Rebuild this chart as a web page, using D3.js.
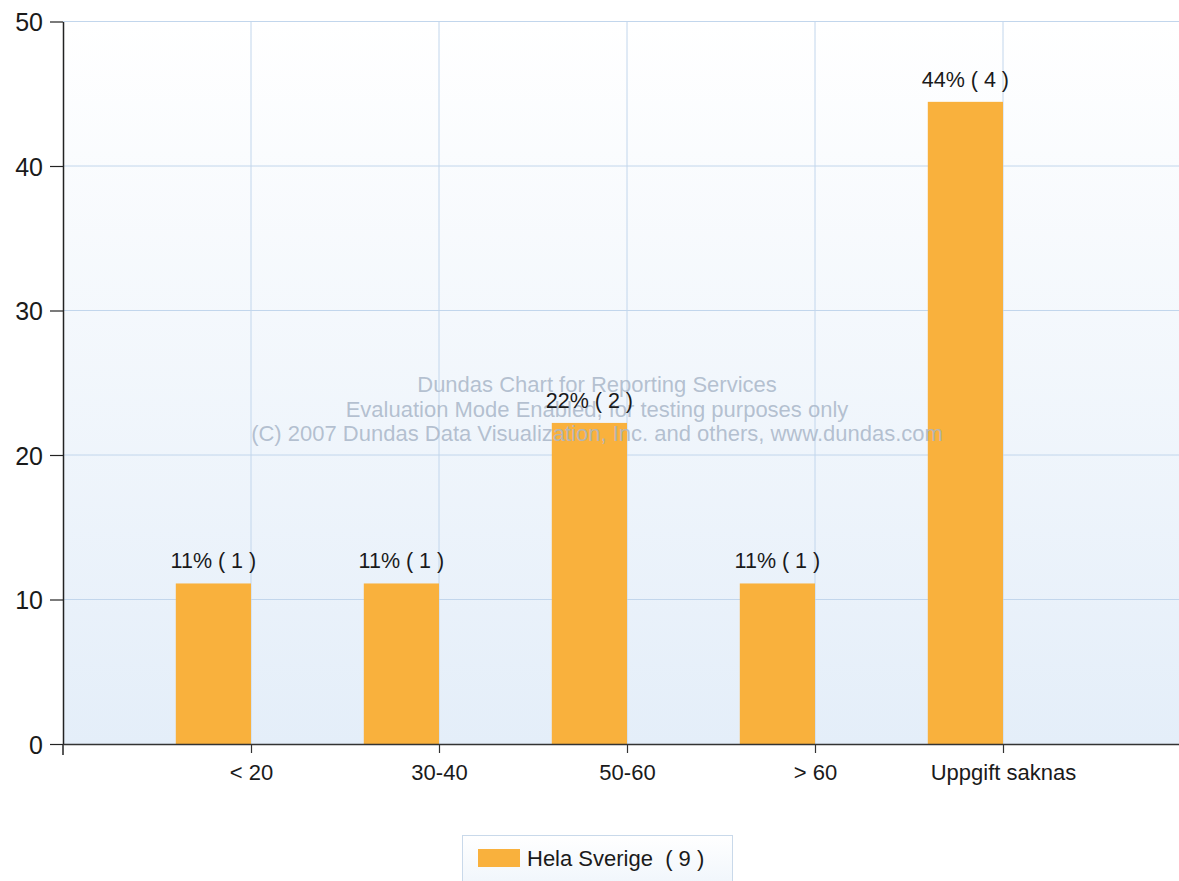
<!DOCTYPE html>
<html>
<head>
<meta charset="utf-8">
<script src="https://cdn.jsdelivr.net/npm/d3@7"></script>
<style>
  html, body { margin: 0; padding: 0; background: #ffffff; overflow: hidden; }
  svg { display: block; font-family: "Liberation Sans", Arial, sans-serif; }
</style>
</head>
<body>
<svg id="chart" width="1179" height="881"></svg>
<script>
const categories = ["< 20", "30-40", "50-60", "> 60", "Uppgift saknas"];
const percentValues = [11.11, 11.11, 22.22, 11.11, 44.44];
const countValues = [1, 1, 2, 1, 4];
const percentLabels = ["11%", "11%", "22%", "11%", "44%"];
const yTicks = [0, 10, 20, 30, 40, 50];
const seriesName = "Hela Sverige";
const seriesTotal = 9;
const watermarkLines = [
  "Dundas Chart for Reporting Services",
  "Evaluation Mode Enabled, for testing purposes only",
  "(C) 2007 Dundas Data Visualization, Inc. and others, www.dundas.com"
];

const svg = d3.select("#chart");
const plot = { left: 63, right: 1191, top: 21.5, bottom: 744 };

const x = d3.scalePoint().domain(categories).range([plot.left, plot.right]).padding(1);
const step = x.step();
const barW = step * 0.4;
const y = d3.scaleLinear().domain([0, 50]).range([plot.bottom, plot.top]);

const defs = svg.append("defs");
const grad = defs.append("linearGradient").attr("id", "bg").attr("x1", 0).attr("y1", 0).attr("x2", 0).attr("y2", 1);
grad.append("stop").attr("offset", "0%").attr("stop-color", "#ffffff");
grad.append("stop").attr("offset", "100%").attr("stop-color", "#e4eef9");
const lgrad = defs.append("linearGradient").attr("id", "lg").attr("x1", 0).attr("y1", 0).attr("x2", 0).attr("y2", 1);
lgrad.append("stop").attr("offset", "0%").attr("stop-color", "#ffffff");
lgrad.append("stop").attr("offset", "100%").attr("stop-color", "#edf4fb");

svg.append("rect")
  .attr("x", plot.left).attr("y", plot.top)
  .attr("width", plot.right - plot.left).attr("height", plot.bottom - plot.top)
  .attr("fill", "url(#bg)");

// horizontal gridlines
svg.append("g").selectAll("line").data(yTicks.filter(d => d > 0)).join("line")
  .attr("x1", plot.left).attr("x2", plot.right)
  .attr("y1", d => y(d)).attr("y2", d => y(d))
  .attr("stroke", "#c2d6ec").attr("stroke-width", 1);

// vertical gridlines
svg.append("g").selectAll("line").data(categories).join("line")
  .attr("x1", d => x(d)).attr("x2", d => x(d))
  .attr("y1", plot.top).attr("y2", plot.bottom)
  .attr("stroke", "#c2d6ec").attr("stroke-width", 1);

// bars
svg.append("g").selectAll("rect").data(categories).join("rect")
  .attr("x", d => x(d) - barW)
  .attr("y", (d, i) => y(percentValues[i]))
  .attr("width", barW)
  .attr("height", (d, i) => plot.bottom - y(percentValues[i]))
  .attr("fill", "#f9b13d");

// watermark (drawn over bars)
svg.append("g").selectAll("text").data(watermarkLines).join("text")
  .attr("x", 597).attr("y", (d, i) => 392 + i * 24.5)
  .attr("text-anchor", "middle")
  .attr("font-size", 22)
  .attr("fill", "#a9b6c8")
  .attr("fill-opacity", 0.85)
  .text(d => d);

// value labels
svg.append("g").selectAll("text").data(categories).join("text")
  .attr("x", d => x(d) - barW / 2)
  .attr("y", (d, i) => y(percentValues[i]) - 15)
  .attr("text-anchor", "middle")
  .attr("font-size", 21.5)
  .attr("fill", "#1a1a1a")
  .text((d, i) => `${percentLabels[i]} ( ${countValues[i]} )`);

// Y axis
const yAxis = d3.axisLeft(y).tickValues(yTicks).tickSize(13).tickPadding(7).tickSizeOuter(0);
const gy = svg.append("g").attr("transform", `translate(${plot.left},0)`).call(yAxis);
gy.select(".domain").attr("stroke", "#222").attr("stroke-width", 1.5);
gy.selectAll(".tick line").attr("stroke", "#222").attr("stroke-width", 1.2);
gy.selectAll(".tick text").attr("font-size", 25).attr("fill", "#1a1a1a")
  .attr("font-family", "'Liberation Sans', Arial, sans-serif").attr("dy", "0.36em");

// X axis
const xAxis = d3.axisBottom(x).tickSize(9).tickPadding(11).tickSizeOuter(0);
const gx = svg.append("g").attr("transform", `translate(0,${plot.bottom})`).call(xAxis);
gx.select(".domain").attr("stroke", "#333").attr("stroke-width", 1.3);
gx.selectAll(".tick line").attr("stroke", "#333").attr("stroke-width", 1.2);
gx.selectAll(".tick text").attr("font-size", 22).attr("fill", "#1a1a1a")
  .attr("font-family", "'Liberation Sans', Arial, sans-serif");
// tick at axis start
svg.append("line").attr("x1", plot.left).attr("x2", plot.left)
  .attr("y1", plot.bottom).attr("y2", plot.bottom + 11)
  .attr("stroke", "#222").attr("stroke-width", 1.5);

// legend
const lg = svg.append("g").attr("transform", "translate(462,835)");
lg.append("rect").attr("x", 0.5).attr("y", 0.5).attr("width", 270).attr("height", 60)
  .attr("fill", "url(#lg)").attr("stroke", "#c9d9ea").attr("stroke-width", 1);
lg.append("rect").attr("x", 16).attr("y", 14).attr("width", 42).attr("height", 18).attr("fill", "#f9b13d");
lg.append("text").attr("x", 65).attr("y", 23).attr("dy", "0.36em")
  .attr("font-size", 22).attr("fill", "#1a1a1a")
  .attr("xml:space", "preserve")
  .text(`${seriesName}\u00a0\u00a0( ${seriesTotal} )`);
</script>
</body>
</html>
